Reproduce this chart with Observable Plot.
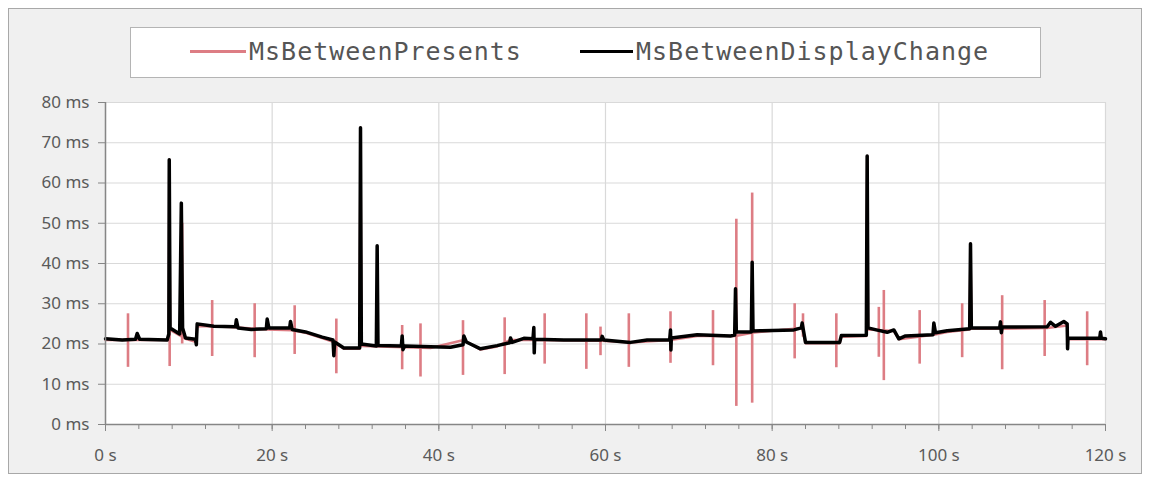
<!DOCTYPE html>
<html>
<head>
<meta charset="utf-8">
<script src="https://cdn.jsdelivr.net/npm/d3@7"></script>
<script src="https://cdn.jsdelivr.net/npm/@observablehq/plot@0.6"></script>
<style>
  html, body { margin: 0; padding: 0; background: #ffffff; }
  #wrap { position: relative; width: 1151px; height: 481px; overflow: hidden; }
  #frame { position: absolute; left: 8px; top: 8px; width: 1134px; height: 466px; background: #f0f0f0; border: 1px solid #a8a8a8; box-sizing: border-box; }
  #legend { position: absolute; left: 130px; top: 27px; width: 911px; height: 51px; background: #ffffff; border: 1px solid #b4b4b4; box-sizing: border-box; }
  .item { position: absolute; top: 0; height: 47px; display: flex; align-items: center; }
  .swatch { display: inline-block; height: 3px; }
  .lab { font-family: "DejaVu Sans Mono", "Liberation Mono", monospace; font-size: 25px; letter-spacing: 1px; color: #555555; margin-left: 3px; white-space: nowrap; }
  #chart { position: absolute; left: 0; top: 90px; }
</style>
</head>
<body>
<div id="wrap">
  <div id="frame"></div>
  <div id="legend"></div>
  <div id="chart"></div>
</div>
<script>
// ---- Data ----
const seriesNames = ["MsBetweenPresents", "MsBetweenDisplayChange"];
const seriesColors = ["#dd7d84", "#000000"];

// MsBetweenDisplayChange: time (s) and frame time (ms)
const displayT = [0, 2.0, 3.6, 3.8, 4.1, 7.4, 7.6, 7.65, 7.75, 8.9, 9.1, 9.25, 9.6, 10.8, 10.9, 11.0, 13.0, 15.6, 15.7, 15.9,
  17.5, 19.3, 19.4, 19.6, 22.1, 22.2, 22.4, 24.0, 26.0, 27.3, 27.4, 27.5, 28.6, 30.5, 30.6, 30.7, 32.5, 32.6, 32.7, 35.5,
  35.6, 35.7, 35.9, 39.0, 41.4, 42.9, 43.0, 43.3, 45.0, 47.0, 48.5, 48.6, 48.8, 50.2, 51.3, 51.4, 51.45, 51.5, 55.0, 59.5,
  59.6, 59.8, 63.0, 65.0, 67.7, 67.8, 67.85, 67.9, 71.0, 75.0, 75.5, 75.6, 75.7, 77.5, 77.6, 77.7, 78.6, 82.6, 83.5, 83.6,
  84.0, 88.1, 88.3, 91.3, 91.4, 91.5, 92.5, 93.8, 94.6, 95.2, 96.0, 99.3, 99.4, 99.6, 101.0, 103.7, 103.8, 103.9, 107.3, 107.4,
  107.5, 107.6, 113.0, 113.4, 114.0, 115.0, 115.4, 115.45, 115.5, 119.3, 119.4, 119.5, 120.0];
const displayMs = [21.3, 21.0, 21.2, 22.6, 21.2, 21.0, 22.5, 65.8, 24.0, 22.5, 55.0, 24.0, 21.5, 21.2, 19.8, 25.0, 24.4, 24.3, 26.0, 24.0,
  23.6, 23.8, 26.2, 24.0, 24.0, 25.6, 23.6, 23.0, 21.7, 21.0, 17.1, 20.5, 19.0, 19.0, 73.7, 20.0, 19.5, 44.4, 19.6, 19.5,
  22.0, 18.6, 19.5, 19.3, 19.2, 19.8, 22.0, 20.5, 18.8, 19.6, 20.3, 21.5, 20.4, 21.4, 21.3, 24.1, 17.8, 21.2, 21.0, 21.0,
  21.9, 21.0, 20.4, 21.0, 21.0, 23.5, 18.5, 21.5, 22.3, 22.0, 22.2, 33.7, 23.0, 23.0, 40.3, 23.2, 23.3, 23.5, 24.0, 25.2,
  20.4, 20.4, 22.1, 22.2, 66.7, 24.0, 23.5, 22.9, 23.5, 21.3, 22.0, 22.3, 25.2, 22.8, 23.3, 23.8, 44.9, 24.0, 24.0, 25.5,
  22.8, 24.2, 24.3, 25.4, 24.4, 25.6, 25.0, 18.8, 21.4, 21.4, 23.0, 21.4, 21.3];

// MsBetweenPresents baseline (mostly hidden under the black line)
const presentsT = [0, 7.6, 7.65, 7.75, 9.6, 10.9, 11.0, 15.0, 19.4, 22.4, 24.0, 26.0, 27.4, 28.6, 30.5, 30.6, 30.7, 39.0, 43.0, 45.0,
  47.0, 48.6, 51.4, 59.5, 63.0, 67.8, 71.0, 75.6, 77.6, 83.6, 84.0, 88.1, 88.3, 91.3, 91.4, 91.5, 94.6, 95.2, 99.4, 101.0,
  103.7, 103.8, 103.9, 107.5, 113.0, 115.4, 115.5, 120.0];
const presentsMs = [21.0, 21.0, 65.8, 23.5, 21.3, 20.5, 24.5, 24.2, 23.6, 23.4, 22.8, 21.5, 20.5, 18.8, 18.8, 73.7, 19.5, 19.0, 21.0, 18.6,
  19.4, 21.0, 21.0, 20.8, 20.4, 21.0, 22.0, 22.0, 22.8, 24.0, 20.2, 20.2, 21.8, 22.0, 66.7, 23.6, 23.2, 21.2, 22.3, 23.0,
  23.6, 44.9, 23.8, 23.8, 24.0, 24.6, 21.2, 21.2];

// MsBetweenPresents spikes: time (s), top (ms), bottom (ms)
const spikeT = [2.7, 7.7, 9.2, 12.8, 17.9, 22.7, 27.7, 35.6, 37.8, 42.9, 47.9, 52.7, 57.7, 59.4, 62.8, 67.8, 72.9, 75.7, 77.6,
  82.7, 83.7, 87.7, 92.8, 93.4, 97.7, 102.8, 107.6, 112.7, 117.8];
const spikeTop = [27.5, 60.0, 50.0, 30.8, 30.0, 29.5, 26.2, 24.6, 25.0, 25.8, 26.5, 27.5, 27.5, 24.2, 27.5, 28.0, 28.3, 51.0, 57.5,
  30.0, 27.5, 27.5, 29.1, 33.3, 28.3, 30.0, 32.0, 30.8, 28.0];
const spikeBottom = [14.2, 14.4, 20.0, 16.9, 16.6, 17.4, 12.6, 13.6, 11.8, 12.2, 12.4, 15.0, 13.7, 17.1, 14.2, 15.2, 14.6, 4.5, 5.3,
  16.3, 21.7, 14.1, 16.7, 10.9, 15.0, 16.6, 13.6, 16.9, 14.6];

// Axis ticks
const xTicks = [0, 20, 40, 60, 80, 100, 120];
const xMinorTicks = [0, 4, 8, 12, 16, 20, 24, 28, 32, 36, 40, 44, 48, 52, 56, 60, 64, 68, 72, 76, 80, 84, 88, 92, 96, 100, 104, 108, 112, 116, 120];
const yTicks = [0, 10, 20, 30, 40, 50, 60, 70, 80];

// ---- Build tables ----
const display = displayT.map((t, i) => ({t, ms: displayMs[i]}));
const presents = presentsT.map((t, i) => ({t, ms: presentsMs[i]}));
const spikes = spikeT.map((t, i) => ({t, top: spikeTop[i], bottom: spikeBottom[i]}));

// ---- Legend ----
const legend = document.getElementById("legend");
const legendPos = [{left: 59, w: 56}, {left: 449, w: 53}];
seriesNames.forEach((name, i) => {
  const it = document.createElement("div");
  it.className = "item";
  it.style.left = legendPos[i].left + "px";
  const sw = document.createElement("span");
  sw.className = "swatch";
  sw.style.width = legendPos[i].w + "px";
  sw.style.background = seriesColors[i];
  const lb = document.createElement("span");
  lb.className = "lab";
  lb.textContent = name;
  it.appendChild(sw);
  it.appendChild(lb);
  legend.appendChild(it);
});

// ---- Chart ----
const gridColor = "#d9d9d9";
const axisColor = "#868686";
const chart = Plot.plot({
  width: 1151,
  height: 391,
  marginLeft: 105,
  marginRight: 46,
  marginTop: 12,
  marginBottom: 57,
  style: {background: "transparent", fontFamily: "'Noto Sans', 'Open Sans', sans-serif", fontSize: "17px", color: "#5a5a5a", overflow: "visible"},
  x: {domain: [0, 120]},
  y: {domain: [0, 80]},
  marks: [
    Plot.frame({fill: "white", stroke: null}),
    Plot.gridX(xTicks, {stroke: gridColor, strokeOpacity: 1, strokeWidth: 1.2}),
    Plot.gridY(yTicks, {stroke: gridColor, strokeOpacity: 1, strokeWidth: 1.2}),
    Plot.line(presents, {x: "t", y: "ms", stroke: seriesColors[0], strokeWidth: 2.5}),
    Plot.ruleX(spikes, {x: "t", y1: "bottom", y2: "top", stroke: seriesColors[0], strokeWidth: 2.6}),
    Plot.line(display, {x: "t", y: "ms", stroke: seriesColors[1], strokeWidth: 3.5, strokeLinejoin: "round"}),
    Plot.ruleX([0], {stroke: axisColor, strokeWidth: 1.5}),
    Plot.ruleY([0], {stroke: axisColor, strokeWidth: 1.5}),
    Plot.axisX(xMinorTicks, {tickSize: 5, text: null, stroke: axisColor, label: null}),
    Plot.axisX(xTicks, {tickSize: 7, tickPadding: 17, stroke: axisColor, tickFormat: d => d + " s", fill: "#5a5a5a", label: null}),
    Plot.axisY(yTicks, {tickSize: 7, tickPadding: 9, stroke: axisColor, tickFormat: d => d + " ms", fill: "#5a5a5a", label: null})
  ]
});
document.getElementById("chart").appendChild(chart);
</script>
</body>
</html>
